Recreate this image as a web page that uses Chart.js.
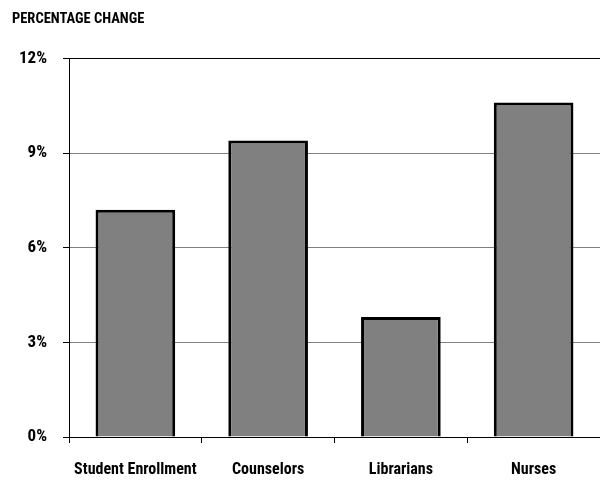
<!DOCTYPE html>
<html><head><meta charset="utf-8">
<script src="https://cdn.jsdelivr.net/npm/chart.js@4"></script>
<style>html,body{margin:0;padding:0;background:#fff}#wrap{width:600px;height:480px}</style>
</head><body><div id="wrap"><canvas id="c" width="600" height="480"></canvas></div>
<script>
const categories = ["Student Enrollment", "Counselors", "Librarians", "Nurses"];
const percentChange = [7.2, 9.4, 3.8, 10.6];
const yTicks = [0, 3, 6, 9, 12];
const titleText = "PERCENTAGE CHANGE";

const FONT = "'Roboto Condensed', 'Liberation Sans Narrow', sans-serif";

new Chart(document.getElementById('c'), {
  type: 'bar',
  data: {
    labels: categories,
    datasets: [{
      data: percentChange,
      backgroundColor: '#808080',
      borderColor: '#000',
      borderWidth: 3,
      categoryPercentage: 1,
      barPercentage: 0.6
    }]
  },
  options: {
    responsive: false,
    animation: false,
    devicePixelRatio: 1,
    layout: { padding: { left: 12, right: 0, top: 11, bottom: 0 } },
    plugins: {
      legend: { display: false },
      tooltip: { enabled: false },
      title: {
        display: true, text: titleText, align: 'start', color: '#000',
        font: { family: FONT, size: 14.5, weight: 'bold' },
        padding: { top: 0, bottom: 30 }
      }
    },
    scales: {
      x: {
        offset: true,
        grid: { offset: true, drawOnChartArea: false, drawTicks: true, tickLength: 6, tickColor: '#000', lineWidth: 1 },
        border: { display: true, color: '#000', width: 1 },
        ticks: { color: '#000', padding: 17, autoSkip: false, font: { family: FONT, size: 16, weight: 'bold' }, maxRotation: 0 },
        afterFit: s => { s.height = 43; }
      },
      y: {
        min: 0, max: 12,
        afterBuildTicks: s => { s.ticks = yTicks.map(v => ({ value: v })); },
        grid: {
          color: ctx => (ctx.tick && (ctx.tick.value === 12 || ctx.tick.value === 0)) ? '#000' : '#808080',
          tickColor: '#000', tickLength: 6, lineWidth: 1, drawTicks: true
        },
        border: { display: true, color: '#000', width: 1 },
        ticks: { color: '#000', padding: 16, font: { family: FONT, size: 17, weight: 'bold' }, callback: v => v + '%' },
        afterFit: s => { s.width = 57; }
      }
    }
  }
});
</script></body></html>
